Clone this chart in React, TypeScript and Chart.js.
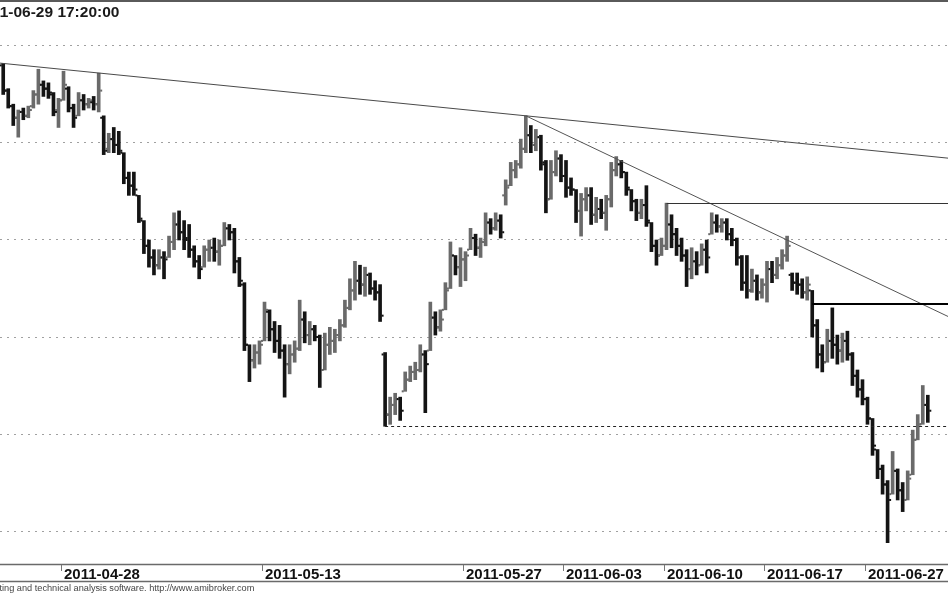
import React, { useEffect, useRef } from "react";
import { Chart, registerables } from "chart.js";

Chart.register(...registerables);

// ---- data (one bar per quarter of a trading day) ----
const opens = [
  2940, 2927, 2919, 2913, 2916, 2914, 2919, 2925, 2930, 2928,
  2925, 2917, 2922, 2928, 2918, 2914, 2922, 2920, 2921, 2920,
  2913, 2897, 2902, 2899, 2895, 2882, 2878, 2873, 2860, 2847,
  2841, 2837, 2841, 2841, 2849, 2858, 2854, 2851, 2845, 2839,
  2836, 2845, 2846, 2844, 2847, 2856, 2854, 2839, 2827, 2796,
  2788, 2792, 2798, 2813, 2804, 2798, 2793, 2786, 2791, 2794,
  2809, 2801, 2804, 2800, 2783, 2796, 2798, 2801, 2806, 2815,
  2824, 2829, 2827, 2832, 2825, 2823, 2791, 2760, 2765, 2768,
  2772, 2778, 2782, 2783, 2791, 2793, 2810, 2805, 2814, 2825,
  2842, 2836, 2840, 2845, 2851, 2846, 2849, 2859, 2856, 2860,
  2873, 2878, 2886, 2889, 2897, 2904, 2899, 2903, 2889, 2871,
  2885, 2892, 2883, 2877, 2876, 2865, 2871, 2873, 2863, 2866,
  2864, 2871, 2886, 2889, 2885, 2876, 2870, 2864, 2868, 2859,
  2847, 2842, 2847, 2858, 2853, 2847, 2842, 2835, 2839, 2837,
  2845, 2853, 2859, 2857, 2859, 2853, 2850, 2841, 2828, 2824,
  2829, 2823, 2827, 2835, 2832, 2837, 2842, 2832, 2828, 2827,
  2823, 2824, 2806, 2791, 2787, 2798, 2796, 2793, 2798, 2791,
  2780, 2773, 2768, 2758, 2742, 2732, 2724, 2719, 2731, 2721,
  2716, 2729, 2747, 2755, 2765,
];
const highs = [
  2941, 2928, 2920, 2917, 2918, 2919, 2927, 2938, 2932, 2931,
  2926, 2923, 2937, 2929, 2920, 2926, 2925, 2923, 2924, 2936,
  2914, 2905, 2908, 2906, 2895, 2885, 2885, 2873, 2860, 2850,
  2845, 2845, 2844, 2852, 2864, 2865, 2860, 2858, 2847, 2842,
  2847, 2850, 2851, 2850, 2859, 2858, 2856, 2841, 2828, 2796,
  2796, 2798, 2818, 2814, 2808, 2806, 2796, 2796, 2798, 2819,
  2813, 2808, 2806, 2801, 2802, 2805, 2804, 2809, 2819, 2830,
  2839, 2837, 2836, 2833, 2829, 2827, 2792, 2769, 2771, 2769,
  2782, 2785, 2787, 2796, 2793, 2818, 2813, 2814, 2828, 2849,
  2842, 2846, 2844, 2856, 2853, 2851, 2864, 2861, 2864, 2863,
  2881, 2890, 2891, 2902, 2914, 2909, 2907, 2904, 2891, 2891,
  2896, 2894, 2891, 2882, 2876, 2874, 2877, 2877, 2872, 2871,
  2873, 2890, 2893, 2891, 2885, 2876, 2871, 2871, 2878, 2859,
  2850, 2851, 2869, 2863, 2856, 2851, 2845, 2846, 2844, 2848,
  2850, 2864, 2863, 2861, 2861, 2856, 2851, 2842, 2842, 2835,
  2832, 2830, 2839, 2839, 2841, 2845, 2852, 2833, 2833, 2830,
  2831, 2824, 2809, 2796, 2804, 2815, 2801, 2802, 2803, 2792,
  2783, 2778, 2769, 2758, 2742, 2734, 2726, 2741, 2732, 2725,
  2731, 2752, 2760, 2775, 2770,
];
const lows = [
  2925, 2918, 2909, 2903, 2912, 2913, 2918, 2920, 2924, 2923,
  2914, 2908, 2922, 2916, 2908, 2914, 2917, 2918, 2917, 2916,
  2894, 2895, 2895, 2894, 2879, 2873, 2873, 2859, 2843, 2836,
  2832, 2835, 2830, 2841, 2845, 2850, 2845, 2841, 2836, 2830,
  2836, 2839, 2839, 2837, 2847, 2850, 2833, 2826, 2793, 2777,
  2784, 2786, 2798, 2798, 2792, 2789, 2769, 2781, 2787, 2793,
  2797, 2796, 2798, 2774, 2783, 2791, 2792, 2798, 2805, 2814,
  2819, 2822, 2821, 2822, 2819, 2808, 2754, 2755, 2760, 2757,
  2772, 2777, 2778, 2782, 2761, 2793, 2801, 2803, 2814, 2825,
  2832, 2826, 2829, 2845, 2842, 2841, 2847, 2853, 2855, 2851,
  2868, 2878, 2882, 2887, 2895, 2895, 2896, 2886, 2864, 2871,
  2883, 2880, 2872, 2873, 2859, 2852, 2865, 2858, 2859, 2861,
  2855, 2867, 2883, 2882, 2873, 2865, 2860, 2861, 2857, 2844,
  2837, 2842, 2845, 2846, 2842, 2839, 2826, 2830, 2832, 2837,
  2833, 2853, 2854, 2854, 2850, 2847, 2837, 2824, 2820, 2823,
  2819, 2820, 2818, 2828, 2830, 2835, 2839, 2824, 2822, 2820,
  2819, 2800, 2784, 2782, 2787, 2789, 2786, 2787, 2788, 2775,
  2769, 2765, 2755, 2739, 2727, 2719, 2694, 2719, 2716, 2710,
  2716, 2729, 2747, 2755, 2756,
];
const closes = [
  2927, 2919, 2913, 2916, 2914, 2917, 2925, 2930, 2928, 2926,
  2916, 2922, 2930, 2918, 2913, 2922, 2920, 2922, 2920, 2927,
  2896, 2902, 2899, 2896, 2882, 2878, 2876, 2861, 2847, 2841,
  2837, 2841, 2840, 2849, 2858, 2854, 2850, 2845, 2839, 2835,
  2845, 2846, 2844, 2847, 2856, 2854, 2839, 2829, 2796, 2788,
  2792, 2796, 2814, 2804, 2798, 2793, 2786, 2791, 2794, 2809,
  2801, 2804, 2800, 2783, 2796, 2798, 2801, 2806, 2815, 2824,
  2829, 2827, 2832, 2825, 2823, 2811, 2760, 2765, 2768, 2762,
  2778, 2782, 2783, 2791, 2786, 2810, 2805, 2809, 2824, 2842,
  2836, 2840, 2842, 2851, 2846, 2849, 2859, 2856, 2860, 2854,
  2877, 2886, 2889, 2897, 2904, 2899, 2903, 2890, 2871, 2885,
  2892, 2883, 2877, 2876, 2865, 2871, 2873, 2863, 2866, 2864,
  2871, 2886, 2889, 2885, 2877, 2870, 2864, 2868, 2860, 2847,
  2842, 2847, 2858, 2853, 2847, 2842, 2835, 2839, 2837, 2845,
  2841, 2859, 2857, 2859, 2853, 2850, 2841, 2828, 2824, 2829,
  2823, 2827, 2835, 2832, 2837, 2842, 2847, 2828, 2827, 2823,
  2827, 2806, 2791, 2787, 2798, 2796, 2793, 2798, 2791, 2780,
  2773, 2768, 2758, 2744, 2732, 2724, 2716, 2731, 2721, 2716,
  2727, 2747, 2755, 2765, 2762,
];

const dateLabels = ["2011-04-28", "2011-05-13", "2011-05-27", "2011-06-03", "2011-06-10", "2011-06-17", "2011-06-27"];
const dateBars = [12, 52, 92, 112, 132, 152, 172];
const gridValues = [2700, 2750, 2800, 2850, 2900, 2950];

// trend lines: two anchor points [bar, price]
const trendFrom = [[0, 2941], [104, 2914]];
const trendTo = [[104, 2914], [156, 2850]];
// horizontal levels: start bar and price
const levelBars = [132, 161, 76];
const levelPrices = [2869, 2817, 2754];

const titleText = "2011-06-29 17:20:00";
const footerText = "AmiBroker - advanced charting and technical analysis software. http://www.amibroker.com";

// ---- styles ----
const FONT = '"Liberation Sans", Arial, sans-serif';
const UP = "#6a6a6a";
const DOWN = "#141414";
const trendStyles = [
  { color: "#4a4a4a", width: 1, extendLeft: true },
  { color: "#555555", width: 1, extendLeft: false },
];
const levelStyles = [
  { color: "#333333", width: 1, dash: [] as number[] },
  { color: "#000000", width: 2, dash: [] as number[] },
  { color: "#222222", width: 1, dash: [3, 3] },
];

const overlayPlugin = {
  id: "amiOverlay",
  beforeDraw(chart: any) {
    const { ctx, width, height } = chart;
    ctx.save();
    ctx.fillStyle = "#ffffff";
    ctx.fillRect(0, 0, width, height);
    ctx.restore();
  },
  afterDatasetsDraw(chart: any) {
    const { ctx, chartArea } = chart;
    const x = chart.scales.x;
    const y = chart.scales.y;
    ctx.save();
    ctx.beginPath();
    ctx.rect(chartArea.left, chartArea.top, chartArea.right - chartArea.left, chartArea.bottom - chartArea.top);
    ctx.clip();

    // open / close ticks
    for (let i = 0; i < opens.length; i++) {
      const px = x.getPixelForValue(i);
      ctx.fillStyle = closes[i] >= opens[i] ? UP : DOWN;
      const yo = y.getPixelForValue(opens[i]);
      const yc = y.getPixelForValue(closes[i]);
      ctx.fillRect(px - 3.5, yo - 1, 2, 2);
      ctx.fillRect(px + 1.5, yc - 1, 2, 2);
    }

    // trend lines
    trendFrom.forEach((f, k) => {
      const t = trendTo[k];
      const st = trendStyles[k];
      const x1 = x.getPixelForValue(f[0]);
      const y1 = y.getPixelForValue(f[1]);
      const x2 = x.getPixelForValue(t[0]);
      const y2 = y.getPixelForValue(t[1]);
      const slope = (y2 - y1) / (x2 - x1);
      const xs = st.extendLeft ? chartArea.left : x1;
      const xe = chartArea.right;
      ctx.beginPath();
      ctx.strokeStyle = st.color;
      ctx.lineWidth = st.width;
      ctx.setLineDash([]);
      ctx.moveTo(xs, y1 + (xs - x1) * slope);
      ctx.lineTo(xe, y1 + (xe - x1) * slope);
      ctx.stroke();
    });

    // horizontal levels
    levelBars.forEach((b, k) => {
      const st = levelStyles[k];
      const xs = x.getPixelForValue(b);
      const yy = Math.round(y.getPixelForValue(levelPrices[k])) + (st.width % 2 ? 0.5 : 0);
      ctx.beginPath();
      ctx.strokeStyle = st.color;
      ctx.lineWidth = st.width;
      ctx.setLineDash(st.dash);
      ctx.moveTo(xs, yy);
      ctx.lineTo(chartArea.right, yy);
      ctx.stroke();
    });
    ctx.restore();
  },
  afterDraw(chart: any) {
    const { ctx, chartArea, width } = chart;
    const x = chart.scales.x;
    ctx.save();
    // top frame
    ctx.fillStyle = "#5a5a5a";
    ctx.fillRect(0, 0, width, 2);

    // axis band
    const b = chartArea.bottom;
    ctx.strokeStyle = "#6a6a6a";
    ctx.lineWidth = 1.5;
    ctx.beginPath();
    ctx.moveTo(0, b + 0.5);
    ctx.lineTo(width, b + 0.5);
    ctx.moveTo(0, b + 17.5);
    ctx.lineTo(width, b + 17.5);
    ctx.stroke();

    ctx.font = "bold 15px " + FONT;
    ctx.textBaseline = "alphabetic";
    ctx.textAlign = "left";
    dateBars.forEach((bar, k) => {
      const px = Math.round(x.getPixelForValue(bar - 0.5)) + 0.5;
      ctx.strokeStyle = "#777";
      ctx.lineWidth = 1;
      ctx.beginPath();
      ctx.moveTo(px, b + 1);
      ctx.lineTo(px, b + 7);
      ctx.stroke();
      ctx.fillStyle = "#111";
      ctx.fillText(dateLabels[k], px + 2.5, b + 14.5);
    });

    // title (cropped at the left like the reference)
    ctx.font = "bold 15.5px " + FONT;
    ctx.fillStyle = "#1a1a1a";
    const pre = ctx.measureText("201").width;
    ctx.fillText(titleText, 0.5 - pre, 17);

    // footer
    ctx.font = "9.2px " + FONT;
    ctx.fillStyle = "#444";
    const fpre = ctx.measureText("AmiBroker - advanced char").width;
    ctx.fillText(footerText, -0.5 - fpre, 590.5);
    ctx.restore();
  },
};

export default function App() {
  const ref = useRef<HTMLCanvasElement | null>(null);
  useEffect(() => {
    if (!ref.current) return;
    const chart = new Chart(ref.current, {
      type: "bar",
      data: {
        datasets: [
          {
            type: "bar",
            data: highs.map((h, i) => ({ x: i, y: [lows[i], h] })) as any,
            backgroundColor: (c: any) => {
              const i = c.dataIndex;
              return closes[i] >= opens[i] ? UP : DOWN;
            },
            borderWidth: 0,
            barThickness: 3,
            grouped: false,
          } as any,
        ],
      },
      options: {
        animation: false,
        responsive: false,
        maintainAspectRatio: false,
        layout: { padding: { left: 0, right: 0, top: 0, bottom: 29 } },
        plugins: {
          legend: { display: false },
          tooltip: { enabled: false },
        },
        scales: {
          x: {
            type: "linear",
            display: false,
            offset: false,
            min: -0.64,
            max: 188.02,
          },
          y: {
            type: "linear",
            display: true,
            min: 2683,
            max: 2973.7,
            ticks: { display: false },
            grid: { drawTicks: false, color: "#a0a0a0", lineWidth: 1 },
            border: { display: false, dash: [2, 5] },
            afterBuildTicks: (s: any) => {
              s.ticks = gridValues.map((v) => ({ value: v }));
            },
          },
        },
      } as any,
      plugins: [overlayPlugin],
    });
    return () => chart.destroy();
  }, []);
  return (
    <div style={{ position: "fixed", left: 0, top: 0, width: 948, height: 593, background: "#fff" }}>
      <canvas ref={ref} width={948} height={593} style={{ width: 948, height: 593, display: "block" }} />
    </div>
  );
}
